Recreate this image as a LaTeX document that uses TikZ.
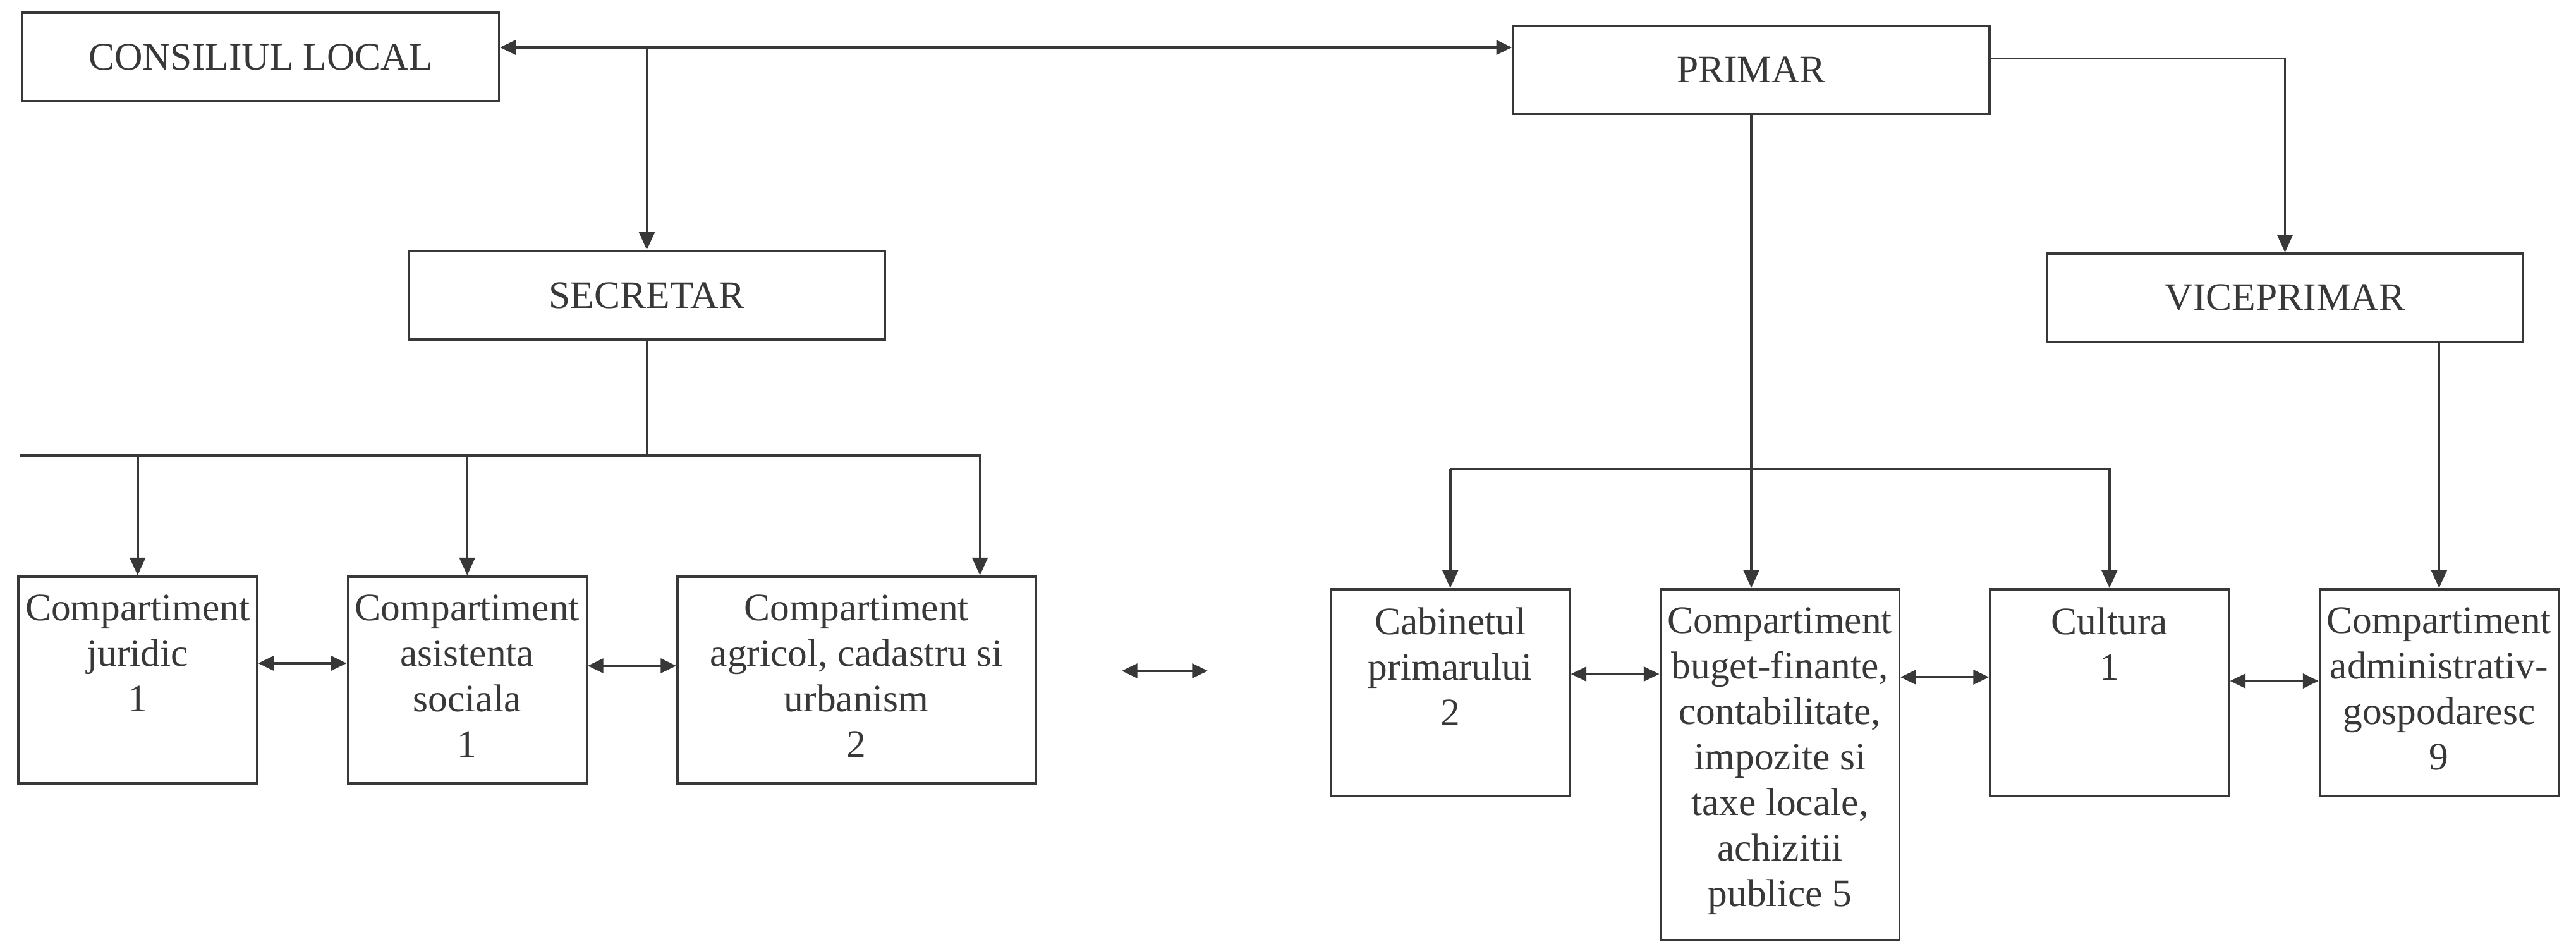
\documentclass[tikz,border=0pt]{standalone}
\usepackage{fontspec}
\setmainfont{Liberation Serif}
\usetikzlibrary{arrows.meta, positioning}
\definecolor{ink}{gray}{0.22}
\tikzstyle{arrow} = [line width=1pt, -{Triangle[length=8pt,width=7pt]}]
\tikzstyle{dblarrow} = [line width=1pt, {Triangle[length=7pt,width=6.5pt]}-{Triangle[length=7pt,width=6.5pt]}]
\tikzstyle{link} = [line width=1pt]
\tikzstyle{head} = [rectangle, draw, line width=1pt, minimum width=7.54cm, minimum height=1.4cm, inner sep=0pt]
\tikzstyle{unit} = [rectangle, draw, line width=1pt, minimum width=3.78cm, minimum height=3.27cm, inner sep=0pt, anchor=north west]
\tikzstyle{unittext} = [align=center, inner sep=0pt]

\begin{document}
\begin{tikzpicture}[color=ink, font=\fontsize{17.5}{20.5}\selectfont, node distance=1.4cm]
\useasboundingbox (0,0) rectangle (40.76,-14.92);

% conducere
\node [head] (cons) at (4.125,-0.90) {CONSILIUL LOCAL};
\node [head] (prim) at (27.71,-1.105) {PRIMAR};
\node [head] (sec) at (10.235,-4.67) {SECRETAR};
\node [head] (vice) at (36.155,-4.71) {VICEPRIMAR};

% compartimente sub secretar
\node [unit] (jur) at (0.27,-9.10) {};
\node [unit] (asi) [right=of jur.north east, anchor=north west] {};
\node [unit, minimum width=5.67cm] (agr) [right=of asi.north east, anchor=north west] {};

\node [unittext] (jur-t) [below=0.3cm of jur.north] {Compartiment\\juridic\\1};
\node [unittext] (asi-t) [below=0.3cm of asi.north] {Compartiment\\asistenta\\sociala\\1};
\node [unittext] (agr-t) [below=0.3cm of agr.north] {Compartiment\\agricol, cadastru si\\urbanism\\2};

% compartimente sub primar
\node [unit] (cab) at (21.04,-9.30) {};
\node [unit, minimum height=5.55cm] (bug) [right=of cab.north east, anchor=north west] {};
\node [unit] (cul) [right=of bug.north east, anchor=north west] {};
\node [unit] (adm) [right=of cul.north east, anchor=north west] {};

\node [unittext] (cab-t) [below=0.3cm of cab.north] {Cabinetul\\primarului\\2};
\node [unittext] (bug-t) [below=0.3cm of bug.north] {Compartiment\\buget-finante,\\contabilitate,\\impozite si\\taxe locale,\\achizitii\\publice 5};
\node [unittext] (cul-t) [below=0.3cm of cul.north] {Cultura\\1};
\node [unittext] (adm-t) [below=0.3cm of adm.north] {Compartiment\\administrativ-\\gospodaresc\\9};

\coordinate (tl) at ([yshift=1.5mm]cons.east);
\coordinate (lbus) at (0.31,-7.20);
\coordinate (rbus) at (cab.north |- 0,-7.42);
\coordinate (iso-a) at (17.75,-10.61);
\coordinate (iso-b) at (19.11,-10.61);

\draw [dblarrow] (tl) to (tl -| prim.west);
\draw [arrow] (sec.north |- tl) to (sec.north);
\draw [arrow] ([yshift=1.8mm]prim.east) -| (vice.north);

\draw [link] (sec.south) to (sec.south |- lbus);
\draw [arrow] (lbus) -| ([xshift=-0.9cm]agr.north east);
\draw [arrow] (lbus -| jur.north) to (jur.north);
\draw [arrow] (lbus -| asi.north) to (asi.north);

\draw [arrow] (prim.south) to (prim.south |- bug.north);
\draw [arrow] (rbus) to (cab.north);
\draw [arrow] (rbus) -| (cul.north);
\draw [arrow] (adm.north |- vice.south) to (adm.north);

\draw [dblarrow] (jur.east |- 0,-10.49) to (asi.west |- 0,-10.49);
\draw [dblarrow] (asi.east |- 0,-10.53) to (agr.west |- 0,-10.53);
\draw [dblarrow] (iso-a) to (iso-b);
\draw [dblarrow] (cab.east |- 0,-10.66) to (bug.west |- 0,-10.66);
\draw [dblarrow] (bug.east |- 0,-10.71) to (cul.west |- 0,-10.71);
\draw [dblarrow] (cul.east |- 0,-10.77) to (adm.west |- 0,-10.77);

\end{tikzpicture}
\end{document}
